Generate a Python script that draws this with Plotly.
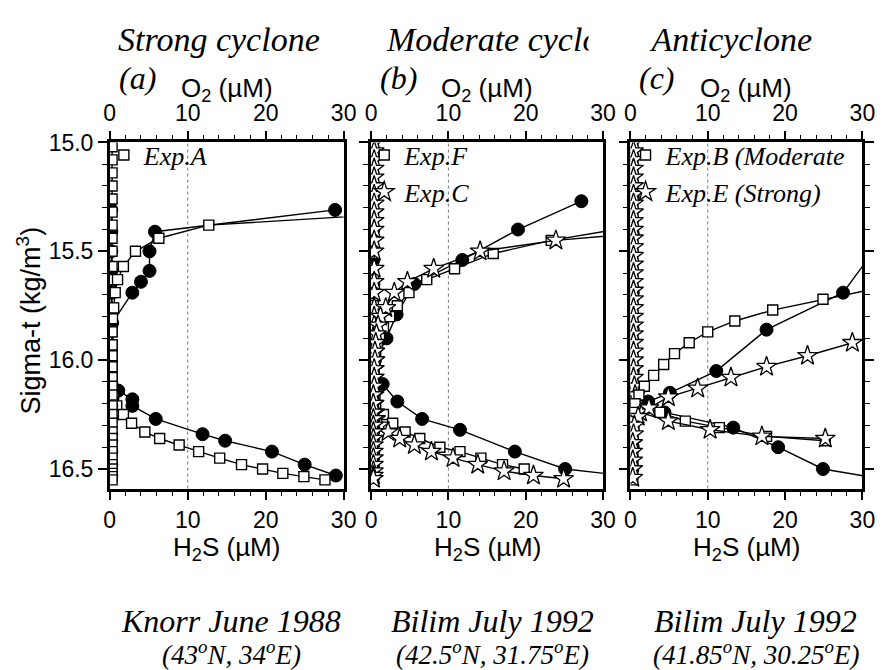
import plotly.graph_objects as go

# ---------------- Panel (a): Knorr June 1988 (strong cyclone) ----------------
# observations (filled circles)
a_obs_o2_sig = [15.31, 15.41, 15.50, 15.59, 15.64, 15.69, 15.83, 16.14, 16.18, 16.21, 16.27, 16.34, 16.37, 16.42, 16.48, 16.53]
a_obs_o2 = [28.9, 5.8, 5.1, 5.1, 4.0, 2.9, 0.3, 0.2, 0.2, 0.2, 0.2, 0.2, 0.2, 0.2, 0.2, 0.2]
a_obs_h2s_sig = [15.31, 15.41, 15.50, 15.59, 15.64, 15.69, 15.83, 16.14, 16.18, 16.21, 16.27, 16.34, 16.37, 16.42, 16.48, 16.53]
a_obs_h2s = [0.2, 0.2, 0.2, 0.2, 0.2, 0.2, 0.2, 1.1, 2.9, 2.9, 5.9, 11.9, 14.8, 20.8, 25.0, 29.0]
# model Exp.A (open squares)
a_mod_o2_sig = [15.32, 15.38, 15.44, 15.50, 15.57, 15.63, 15.69, 15.76, 15.81, 15.87, 15.93, 15.98, 16.03, 16.08,
                16.12, 16.16, 16.21, 16.25, 16.29, 16.33, 16.36, 16.39, 16.42, 16.45, 16.48, 16.50, 16.52, 16.535, 16.55]
a_mod_o2 = [40, 12.7, 6.3, 3.3, 1.75, 1.0, 0.7, 0.5, 0.35, 0.3, 0.3, 0.3, 0.3, 0.3,
            0.3, 0.3, 0.3, 0.3, 0.3, 0.3, 0.3, 0.3, 0.3, 0.3, 0.3, 0.3, 0.3, 0.3, 0.3]
a_mod_h2s_sig = [15.02, 15.08, 15.14, 15.20, 15.26, 15.32, 15.38, 15.44, 15.50, 15.57, 15.63, 15.69, 15.76, 15.81,
                 15.87, 15.93, 15.98, 16.03, 16.08, 16.12, 16.16, 16.21, 16.25, 16.29, 16.33, 16.36, 16.39, 16.42,
                 16.45, 16.48, 16.50, 16.52, 16.535, 16.55]
a_mod_h2s = [0.3, 0.3, 0.3, 0.3, 0.3, 0.3, 0.3, 0.3, 0.3, 0.3, 0.3, 0.3, 0.3, 0.3,
             0.3, 0.3, 0.3, 0.3, 0.3, 0.3, 0.5, 0.9, 1.75, 2.8, 4.5, 6.4, 8.9, 11.4,
             14.1, 16.9, 19.6, 22.2, 24.9, 27.6]

# ---------------- Panel (b): Bilim July 1992 (moderate cyclone) ----------------
b_obs_o2_sig = [15.27, 15.40, 15.54, 15.65, 15.79, 15.90, 16.00, 16.11, 16.19, 16.27, 16.32, 16.42, 16.50]
b_obs_o2 = [27.2, 19.0, 11.8, 5.6, 3.3, 2.0, 0.5, 0.3, 0.3, 0.3, 0.3, 0.3, 0.3]
b_obs_h2s_sig = [15.27, 15.40, 15.54, 15.65, 15.79, 15.90, 16.00, 16.11, 16.19, 16.27, 16.32, 16.42, 16.50, 16.54]
b_obs_h2s = [0.3, 0.3, 0.3, 0.3, 0.3, 0.3, 0.3, 1.5, 3.4, 6.6, 11.5, 18.6, 25.1, 35]
# model Exp.F (open squares)
b_f_o2_sig = [15.35, 15.45, 15.51, 15.58, 15.63, 15.69, 15.75, 15.80, 15.85, 15.89, 15.93, 15.97, 16.01, 16.05, 16.08,
              16.12, 16.15, 16.18, 16.22, 16.25, 16.29, 16.33, 16.36, 16.40, 16.42, 16.45, 16.48, 16.50, 16.52, 16.54]
b_f_o2 = [40, 23.3, 15.8, 10.8, 7.2, 4.9, 3.4, 2.4, 1.6, 1.1, 0.8, 0.6, 0.5, 0.4, 0.4,
          0.3, 0.3, 0.3, 0.3, 0.3, 0.3, 0.3, 0.3, 0.3, 0.3, 0.3, 0.3, 0.3, 0.3, 0.3]
b_f_h2s_sig = [15.02, 15.06, 15.10, 15.14, 15.18, 15.22, 15.26, 15.30, 15.34, 15.38, 15.41, 15.45, 15.51, 15.58,
               15.63, 15.69, 15.75, 15.80, 15.85, 15.89, 15.93, 15.97, 16.01, 16.05, 16.08, 16.12, 16.15, 16.18,
               16.22, 16.25, 16.29, 16.33, 16.36, 16.40, 16.42, 16.45, 16.48, 16.50]
b_f_h2s = [0.3, 0.3, 0.3, 0.3, 0.3, 0.3, 0.3, 0.3, 0.3, 0.3, 0.3, 0.3, 0.3, 0.3,
           0.3, 0.3, 0.3, 0.3, 0.3, 0.3, 0.3, 0.3, 0.3, 0.3, 0.3, 0.3, 0.4, 0.5,
           0.6, 1.6, 2.8, 4.4, 6.3, 8.9, 11.5, 14.2, 17.0, 19.8]
# model Exp.C (open stars)
b_c_o2_sig = [15.40, 15.45, 15.50, 15.58, 15.64, 15.69, 15.76, 15.80, 15.84, 15.88, 15.92, 15.96, 16.00, 16.04, 16.08,
              16.12, 16.16, 16.20, 16.24, 16.27, 16.30, 16.33, 16.36, 16.39, 16.42, 16.45, 16.48, 16.51, 16.53, 16.545]
b_c_o2 = [40, 23.9, 14.1, 8.1, 4.7, 3.0, 1.9, 1.2, 0.9, 0.7, 0.6, 0.5, 0.5, 0.4, 0.4,
          0.4, 0.3, 0.3, 0.3, 0.3, 0.3, 0.3, 0.3, 0.3, 0.3, 0.3, 0.3, 0.3, 0.3, 0.3]
b_c_h2s_sig = [15.00, 15.04, 15.08, 15.12, 15.16, 15.20, 15.24, 15.28, 15.32, 15.36, 15.40, 15.45, 15.50, 15.58,
               15.64, 15.69, 15.76, 15.80, 15.84, 15.88, 15.92, 15.96, 16.00, 16.04, 16.08, 16.12, 16.16, 16.20,
               16.24, 16.27, 16.30, 16.33, 16.36, 16.39, 16.42, 16.45, 16.48, 16.51, 16.53, 16.545]
b_c_h2s = [0.4, 0.4, 0.4, 0.4, 0.4, 0.4, 0.4, 0.4, 0.4, 0.4, 0.4, 0.4, 0.4, 0.4,
           0.4, 0.4, 0.4, 0.4, 0.4, 0.4, 0.4, 0.4, 0.4, 0.4, 0.4, 0.4, 0.4, 0.4,
           0.5, 0.6, 1.1, 2.2, 3.7, 5.6, 7.8, 10.6, 13.8, 17.2, 21.0, 24.9]

# ---------------- Panel (c): Bilim July 1992 (anticyclone) ----------------
c_obs_o2_sig = [15.42, 15.69, 15.86, 16.05, 16.15, 16.19, 16.24, 16.31, 16.40, 16.50]
c_obs_o2 = [33.1, 27.5, 17.6, 11.1, 5.1, 2.3, 0.3, 0.3, 0.3, 0.25]
c_obs_h2s_sig = [15.07, 15.25, 15.42, 15.69, 15.86, 16.05, 16.15, 16.19, 16.24, 16.31, 16.40, 16.50, 16.56]
c_obs_h2s = [0.3, 0.3, 0.3, 0.3, 0.3, 0.3, 0.3, 0.6, 4.4, 13.3, 19.1, 24.9, 35]
# model Exp.B (moderate, open squares)
c_b_o2_sig = [15.61, 15.72, 15.77, 15.82, 15.87, 15.92, 15.97, 16.02, 16.07, 16.12, 16.16,
              16.20, 16.24, 16.28, 16.31, 16.35, 16.37, 16.40, 16.43, 16.46, 16.49, 16.52, 16.55]
c_b_o2 = [40, 24.9, 18.4, 13.5, 10.0, 7.6, 5.7, 4.3, 3.0, 1.8, 1.1,
          0.6, 0.4, 0.3, 0.3, 0.3, 0.3, 0.3, 0.3, 0.3, 0.3, 0.3, 0.3]
c_b_h2s_sig = [15.02, 15.06, 15.10, 15.14, 15.18, 15.22, 15.26, 15.30, 15.34, 15.38, 15.42, 15.46, 15.50, 15.54,
               15.58, 15.62, 15.66, 15.70, 15.74, 15.78, 15.82, 15.86, 15.90, 15.94, 15.98, 16.02, 16.06, 16.10,
               16.14, 16.18, 16.22, 16.24, 16.28, 16.31, 16.35, 16.37]
c_b_h2s = [0.3, 0.3, 0.3, 0.3, 0.3, 0.3, 0.3, 0.3, 0.3, 0.3, 0.3, 0.3, 0.3, 0.3,
           0.3, 0.3, 0.3, 0.3, 0.3, 0.3, 0.3, 0.3, 0.3, 0.3, 0.3, 0.3, 0.3, 0.3,
           0.4, 0.6, 1.8, 3.8, 7.1, 11.5, 17.6, 25.2]
# model Exp.E (strong, open stars)
c_e_o2_sig = [15.855, 15.92, 15.98, 16.03, 16.08, 16.13, 16.17, 16.22, 16.26, 16.30, 16.34, 16.38, 16.42, 16.46, 16.50, 16.54]
c_e_o2 = [35, 28.7, 22.9, 17.6, 13.0, 8.7, 4.9, 2.4, 1.0, 0.5, 0.4, 0.3, 0.3, 0.3, 0.3, 0.3]
c_e_h2s_sig = [15.00, 15.04, 15.08, 15.12, 15.16, 15.20, 15.24, 15.28, 15.32, 15.36, 15.40, 15.44, 15.48, 15.52,
               15.56, 15.60, 15.64, 15.68, 15.72, 15.76, 15.80, 15.84, 15.88, 15.92, 15.96, 16.00, 16.04, 16.08,
               16.12, 16.16, 16.20, 16.24, 16.28, 16.32, 16.35, 16.36]
c_e_h2s = [0.4, 0.4, 0.4, 0.4, 0.4, 0.4, 0.4, 0.4, 0.4, 0.4, 0.4, 0.4, 0.4, 0.4,
           0.4, 0.4, 0.4, 0.4, 0.4, 0.4, 0.4, 0.4, 0.4, 0.4, 0.4, 0.4, 0.4, 0.4,
           0.5, 0.6, 0.8, 1.3, 4.9, 10.3, 17.0, 25.2]

# ---------------- text ----------------
panel_titles = ["Strong cyclone", "Moderate cyclone", "Anticyclone"]
panel_letters = ["(a)", "(b)", "(c)"]
cruise_names = ["Knorr June 1988", "Bilim July 1992", "Bilim July 1992"]
cruise_positions = ["(43<sup>o</sup>N, 34<sup>o</sup>E)", "(42.5<sup>o</sup>N, 31.75<sup>o</sup>E)",
                    "(41.85<sup>o</sup>N, 30.25<sup>o</sup>E)"]
x_ticks = [0, 10, 20, 30]

W, H = 894, 670
SANS = "Liberation Sans"
SERIF = "Liberation Serif"

# pixel layout of the three panels
panel_px = [(106, 345), (373, 610), (638, 875)]
top_px, bot_px = 132, 485


def px(x):
    return x / W


def py(y):
    return 1 - y / H


fig = go.Figure()

circle = dict(symbol="circle", size=13, color="black", line=dict(color="black", width=1))
square = dict(symbol="square", size=10, color="white", line=dict(color="black", width=1.4))
star = dict(symbol="star", size=15, color="white", line=dict(color="black", width=1.3))
line_style = dict(color="black", width=1.4)


def add(xs, ys, marker, xaxis, yaxis):
    fig.add_trace(go.Scatter(x=xs, y=ys, mode="lines+markers", marker=marker, line=line_style,
                             xaxis=xaxis, yaxis=yaxis, showlegend=False, hoverinfo="skip"))


# panel (a): O2 on top axes (x4..x6), H2S on bottom axes (x..x3)
add(a_obs_o2, a_obs_o2_sig, circle, "x4", "y")
add(a_obs_h2s, a_obs_h2s_sig, circle, "x", "y")
add(a_mod_o2, a_mod_o2_sig, square, "x4", "y")
add(a_mod_h2s, a_mod_h2s_sig, square, "x", "y")
# panel (b)
add(b_obs_o2, b_obs_o2_sig, circle, "x5", "y2")
add(b_obs_h2s, b_obs_h2s_sig, circle, "x2", "y2")
add(b_f_o2, b_f_o2_sig, square, "x5", "y2")
add(b_f_h2s, b_f_h2s_sig, square, "x2", "y2")
add(b_c_o2, b_c_o2_sig, star, "x5", "y2")
add(b_c_h2s, b_c_h2s_sig, star, "x2", "y2")
# panel (c)
add(c_obs_o2, c_obs_o2_sig, circle, "x6", "y3")
add(c_obs_h2s, c_obs_h2s_sig, circle, "x3", "y3")
add(c_b_o2, c_b_o2_sig, square, "x6", "y3")
add(c_b_h2s, c_b_h2s_sig, square, "x3", "y3")
add(c_e_o2, c_e_o2_sig, star, "x6", "y3")
add(c_e_h2s, c_e_h2s_sig, star, "x3", "y3")

# legend entries (marker only)
legend_entries = [
    ("Exp.A", square, "legend", "x", "y"),
    ("Exp.F", square, "legend2", "x2", "y2"),
    ("Exp.C", star, "legend2", "x2", "y2"),
    ("Exp.B (Moderate", square, "legend3", "x3", "y3"),
    ("Exp.E (Strong)", star, "legend3", "x3", "y3"),
]
for name, mk, lg, xa, ya in legend_entries:
    fig.add_trace(go.Scatter(x=[None], y=[None], mode="markers", marker=mk, name=name,
                             legend=lg, xaxis=xa, yaxis=ya, showlegend=True))

tickfont = dict(family=SANS, size=23, color="black")
common_x = dict(range=[0, 30], tickvals=x_ticks, ticks="outside", ticklen=9, tickwidth=1.5,
                tickcolor="black", showline=True, linewidth=2.5, linecolor="black",
                showgrid=False, zeroline=False, tickfont=tickfont,
                minor=dict(dtick=2, ticks="outside", ticklen=5, tickwidth=1, tickcolor="black"))
common_y = dict(range=[16.59, 15.0], tick0=15.0, dtick=0.5, tickformat=".1f", ticks="outside",
                ticklen=9, tickwidth=1.5, tickcolor="black", showline=True, linewidth=2.5,
                linecolor="black", showgrid=False, zeroline=False, tickfont=tickfont,
                domain=[py(bot_px), py(top_px)],
                minor=dict(dtick=0.1, ticks="outside", ticklen=5, tickwidth=1, tickcolor="black"))

layout = dict(width=W, height=H, margin=dict(l=0, r=0, t=0, b=0),
              paper_bgcolor="white", plot_bgcolor="white", showlegend=True)

for i, (x0, x1) in enumerate(panel_px):
    n = "" if i == 0 else str(i + 1)
    ynm = "y" + n
    layout["xaxis" + n] = dict(common_x, domain=[px(x0), px(x1)], anchor=ynm)
    layout["xaxis" + str(i + 4)] = dict(common_x, overlaying="x" + n, side="top", anchor=ynm)
    yax = dict(common_y, anchor="x" + n)
    if i == 0:
        yax["mirror"] = True
    elif i == 1:
        yax.update(mirror=True, showticklabels=False)
    else:
        yax.update(mirror="ticks", showticklabels=False)
    layout["yaxis" + n] = yax

# legends inside the upper-left corner of each panel
legend_font = dict(family=SERIF, size=26, color="black", style="italic")
for lg, x0 in (("legend", 100), ("legend2", 366), ("legend3", 633)):
    layout[lg] = dict(x=px(x0), y=py(121), xanchor="left", yanchor="top", bgcolor="rgba(0,0,0,0)",
                      font=legend_font, tracegroupgap=0, itemsizing="trace")

fig.update_layout(**layout)

# dotted reference line at 10 uM in every panel
for i in range(3):
    n = "" if i == 0 else str(i + 1)
    fig.add_shape(type="line", xref="x" + n, yref="y" + n + " domain", x0=10, x1=10, y0=0, y1=1,
                  line=dict(color="#777777", width=1, dash="3px,3px"), layer="below")

title_font = dict(family=SERIF, size=34, color="black", style="italic")
letter_font = dict(family=SERIF, size=32, color="black", style="italic")
label_font = dict(family=SANS, size=26, color="black")

ann = []
title_x = [112, 386]
for t, xl in zip(panel_titles[:2], title_x):
    ann.append(dict(text=t, x=px(xl), y=py(27), xanchor="left", yanchor="middle", font=title_font))
# third title sits on a white box that trims the overflowing neighbour
ann.append(dict(text=panel_titles[2], x=px(826), y=py(27), xanchor="right", yanchor="middle",
                width=222, align="right", bgcolor="white", font=title_font))
for t, xl in zip(panel_letters, [113, 380, 645]):
    ann.append(dict(text=t, x=px(xl), y=py(66), xanchor="left", yanchor="middle", font=letter_font))
for x0, x1 in panel_px:
    xc = px((x0 + x1) / 2)
    ann.append(dict(text="O<sub>2</sub> (µM)", x=xc, y=py(78), xanchor="center", yanchor="middle",
                    font=label_font))
    ann.append(dict(text="H<sub>2</sub>S (µM)", x=xc, y=py(546), xanchor="center", yanchor="middle",
                    font=label_font))
ann.append(dict(text="Sigma-t (kg/m<sup>3</sup>)", x=px(23), y=py(314), textangle=-90,
                xanchor="center", yanchor="middle", font=dict(label_font, size=27)))
cruise_font = dict(family=SERIF, size=32, color="black", style="italic")
pos_font = dict(family=SERIF, size=27, color="black", style="italic")
for name, pos, xc in zip(cruise_names, cruise_positions, [230, 497, 766]):
    ann.append(dict(text=name, x=px(xc), y=py(620), xanchor="center", yanchor="middle", font=cruise_font))
    ann.append(dict(text=pos, x=px(xc), y=py(653), xanchor="center", yanchor="middle", font=pos_font))

for a in ann:
    a.update(xref="paper", yref="paper", showarrow=False)
fig.update_layout(annotations=ann)

fig.write_html("out.html")
